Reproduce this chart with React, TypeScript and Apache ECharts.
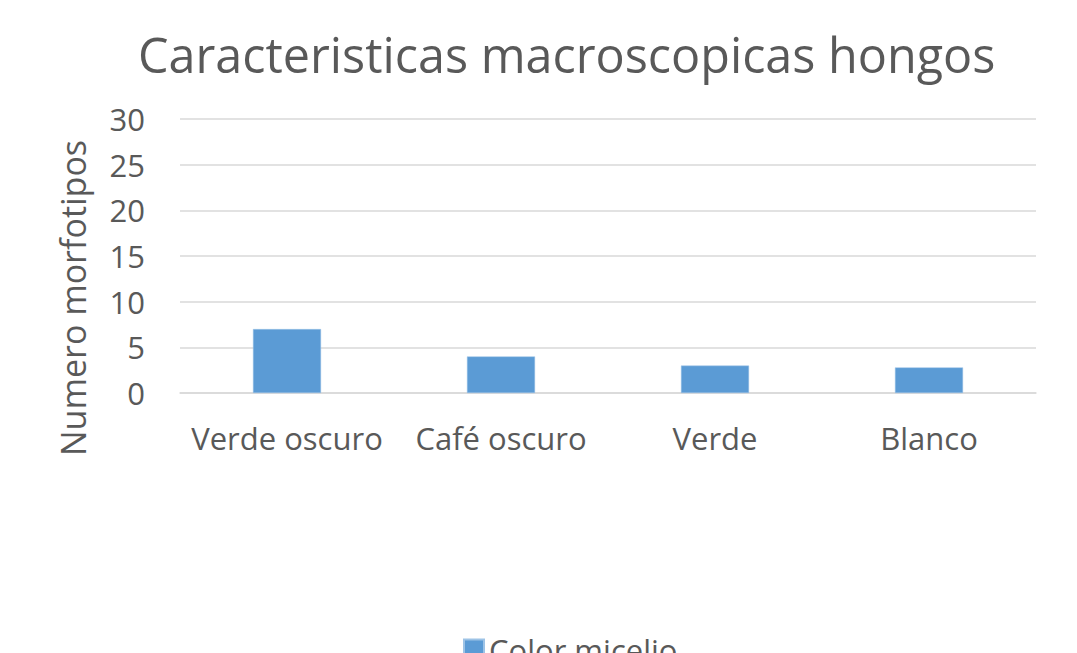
import React, { useEffect, useRef } from "react";
import * as echarts from "echarts";

const categories = ["Verde oscuro", "Café oscuro", "Verde", "Blanco"];
const values = [7, 4, 3, 2.8];
const seriesName = "Color micelio";
const titleText = "Caracteristicas macroscopicas hongos";
const yAxisName = "Numero morfotipos";

export default function App() {
  const ref = useRef<HTMLDivElement>(null);
  useEffect(() => {
    const chart = echarts.init(ref.current!, null, { renderer: "svg" });
    const font = "'Open Sans', sans-serif";
    chart.setOption({
      animation: false,
      backgroundColor: "#ffffff",
      title: {
        text: titleText,
        left: 133,
        top: 24,
        textStyle: { color: "#595959", fontSize: 48.5, fontWeight: "normal", fontFamily: font },
      },
      grid: { left: 180, right: 41, top: 119, bottom: 260, containLabel: false },
      legend: {
        top: 629,
        left: 458,
        itemWidth: 20,
        itemHeight: 20,
        itemGap: 10,
        textStyle: { color: "#595959", fontSize: 31, fontFamily: font },
        data: [{ name: seriesName, icon: "rect" }],
      },
      xAxis: {
        type: "category",
        data: categories,
        axisLine: { show: true, lineStyle: { color: "#D9D9D9", width: 1.5 } },
        axisTick: { show: false },
        axisLabel: { color: "#595959", fontSize: 31, fontFamily: font, margin: 29, interval: 0 },
      },
      yAxis: {
        type: "value",
        min: 0,
        max: 30,
        interval: 5,
        name: yAxisName,
        nameLocation: "middle",
        nameGap: 90,
        nameTextStyle: { color: "#595959", fontSize: 34, fontFamily: font, padding: [0, 84, 0, 0] },
        axisLine: { show: false },
        axisTick: { show: false },
        splitLine: { lineStyle: { color: "#D9D9D9", width: 1.5 } },
        axisLabel: { color: "#595959", fontSize: 31, fontFamily: font, margin: 35 },
      },
      series: [
        {
          name: seriesName,
          type: "bar",
          data: values,
          barWidth: "31.8%",
          itemStyle: { color: "#5B9BD5", borderColor: "#9DC3E6", borderWidth: 0.5 },
        },
      ],
    });
    return () => chart.dispose();
  }, []);
  return (
    <div
      ref={ref}
      style={{ position: "fixed", left: 0, top: 0, width: 1077, height: 653 }}
    />
  );
}
